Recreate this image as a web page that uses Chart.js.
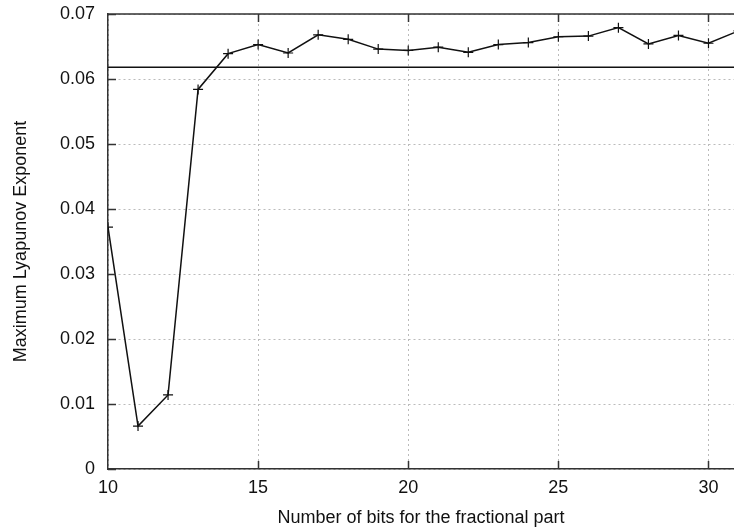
<!DOCTYPE html>
<html>
<head>
<meta charset="utf-8">
<title>Maximum Lyapunov Exponent</title>
<script src="https://cdn.jsdelivr.net/npm/chart.js@4/dist/chart.umd.min.js"></script>
<style>
  html, body { margin: 0; padding: 0; background: #fff; }
  #wrap { width: 734px; height: 529px; }
</style>
</head>
<body>
<div id="wrap"><canvas id="lyapChart" width="734" height="529"></canvas></div>
<script>
// bits used for the fractional part, and the exponent measured at each width
var bits = [10, 11, 12, 13, 14, 15, 16, 17, 18, 19, 20, 21, 22, 23, 24, 25, 26, 27, 28, 29, 30, 31];
var exponent = [0.0372, 0.0066, 0.0114, 0.0584, 0.0639, 0.0653, 0.0640, 0.0668, 0.0661, 0.0646, 0.0644,
                0.0649, 0.0641, 0.0653, 0.0656, 0.0665, 0.0666, 0.0679, 0.0654, 0.0667, 0.0655, 0.0674];
// reference level (floating point result)
var refLevel = 0.0618;
var refSpan = [10, 31];
var xTicks = [10, 15, 20, 25, 30];
var yTicks = [0, 0.01, 0.02, 0.03, 0.04, 0.05, 0.06, 0.07];

var axisColor = "#333";
var fontFamily = "'Liberation Sans', Arial, Helvetica, sans-serif";

// gnuplot style frame: top border plus inward tick marks
var framePlugin = {
	id: 'frame',
	afterDraw: function(chart) {
		var ctx = chart.ctx;
		var area = chart.chartArea;
		var xs = chart.scales.x, ys = chart.scales.y;
		var len = 8;
		ctx.save();
		ctx.strokeStyle = axisColor;
		ctx.lineWidth = 1.5;
		ctx.beginPath();
		ctx.moveTo(area.left, area.top);
		ctx.lineTo(area.right, area.top);
		for (var i = 0; i < xTicks.length; i++) {
			var px = Math.round(xs.getPixelForValue(xTicks[i])) + 0.5;
			if (xTicks[i] === xs.min) continue;
			ctx.moveTo(px, area.bottom);
			ctx.lineTo(px, area.bottom - len);
			ctx.moveTo(px, area.top);
			ctx.lineTo(px, area.top + len);
		}
		for (var j = 0; j < yTicks.length; j++) {
			var py = Math.round(ys.getPixelForValue(yTicks[j])) + 0.5;
			ctx.moveTo(area.left, py);
			ctx.lineTo(area.left + len, py);
		}
		ctx.stroke();
		ctx.restore();
	}
};

var lyapData = {
	datasets: [{
		data: bits.map(function(b, i) { return {x: b, y: exponent[i]}; }),
		borderColor: "#111",
		borderWidth: 1.5,
		pointStyle: 'cross',
		pointRadius: 5,
		pointBorderWidth: 1.2,
		pointBorderColor: "#111",
		tension: 0
	}, {
		data: refSpan.map(function(b) { return {x: b, y: refLevel}; }),
		borderColor: "#111",
		borderWidth: 1.5,
		pointRadius: 0
	}]
};

new Chart(document.getElementById('lyapChart'), {
	type: 'line',
	data: lyapData,
	plugins: [framePlugin],
	options: {
		responsive: false,
		animation: false,
		layout: { autoPadding: false, padding: { top: 14, right: 0, bottom: 0, left: 0 } },
		plugins: { legend: { display: false }, tooltip: { enabled: false } },
		scales: {
			x: {
				type: 'linear',
				min: 10,
				max: 30.85,
				afterBuildTicks: function(scale) {
					scale.ticks = xTicks.map(function(v) { return {value: v}; });
				},
				afterFit: function(scale) {
					scale.height = 60;
					scale.paddingLeft = 0;
					scale.paddingRight = 0;
				},
				grid: { color: "#bbb", lineWidth: 1, drawTicks: false },
				border: { color: axisColor, width: 1.5, dash: [2, 3] },
				ticks: { color: "#111", padding: 8, maxRotation: 0, font: { family: fontFamily, size: 18 } },
				title: {
					display: true,
					text: 'Number of bits for the fractional part',
					color: "#111",
					padding: { top: 0, bottom: 0 },
					font: { family: fontFamily, size: 18 }
				}
			},
			y: {
				min: 0,
				max: 0.07,
				afterBuildTicks: function(scale) {
					scale.ticks = yTicks.map(function(v) { return {value: v}; });
				},
				afterFit: function(scale) {
					scale.width = 108;
					scale.paddingTop = 0;
					scale.paddingBottom = 0;
				},
				grid: { color: "#bbb", lineWidth: 1, drawTicks: false },
				border: { color: axisColor, width: 1.5, dash: [2, 3] },
				ticks: {
					color: "#111",
					padding: 13,
					font: { family: fontFamily, size: 18 },
					callback: function(v) { return v === 0 ? '0' : v.toFixed(2); }
				},
				title: {
					display: true,
					text: 'Maximum Lyapunov Exponent',
					color: "#111",
					padding: { top: 10, bottom: 0 },
					font: { family: fontFamily, size: 18 }
				}
			}
		}
	}
});
</script>
</body>
</html>
